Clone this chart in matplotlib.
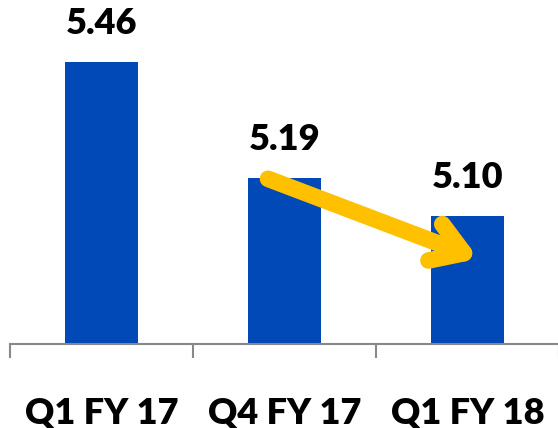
import matplotlib.pyplot as plt
from matplotlib.patches import FancyArrowPatch

categories = ['Q1 FY 17', 'Q4 FY 17', 'Q1 FY 18']
values = [5.46, 5.19, 5.10]
value_labels = ['5.46', '5.19', '5.10']

bar_color = '#0049B7'
arrow_color = '#FFC000'

plt.rcParams['font.family'] = ['Lato', 'DejaVu Sans']

fig = plt.figure(figsize=(5.58, 4.28), dpi=100)
ax = fig.add_axes([10 / 558, 84 / 428, 549 / 558, 344 / 428])

x = range(len(categories))
ax.bar(x, values, width=0.4, color=bar_color, zorder=2)

for xi, v, lab in zip(x, values, value_labels):
    ax.annotate(lab, (xi, v), xytext=(0, 22), textcoords='offset pixels',
                ha='center', va='bottom', fontsize=26, fontweight='heavy',
                color='black')

ax.set_xlim(-0.5, 2.5)
ax.set_ylim(4.8, 5.606)

# only the bottom line, ticks between categories
for s in ['left', 'right', 'top']:
    ax.spines[s].set_visible(False)
ax.spines['bottom'].set_color('#888888')
ax.spines['bottom'].set_linewidth(1.5)
ax.set_yticks([])
ax.set_xticks([-0.5, 0.5, 1.5, 2.5])
ax.set_xticklabels([])
ax.tick_params(axis='x', length=10, width=1.5, color='#888888', direction='out')

for xi, c in zip(x, categories):
    ax.text(xi, -0.2, c, transform=ax.get_xaxis_transform(), ha='center',
            va='center', fontsize=26, fontweight='heavy', color='black')

# yellow trend arrow
arrow = FancyArrowPatch((1 - 0.09, values[1] - 0.003), (2 + 0.06, values[2] - 0.10),
                        arrowstyle='->,head_length=1.1,head_width=0.7',
                        color=arrow_color, lw=12, capstyle='round',
                        joinstyle='round', mutation_scale=20, zorder=3,
                        shrinkA=0, shrinkB=0)
ax.add_patch(arrow)

fig.savefig('out.png', dpi=100)
